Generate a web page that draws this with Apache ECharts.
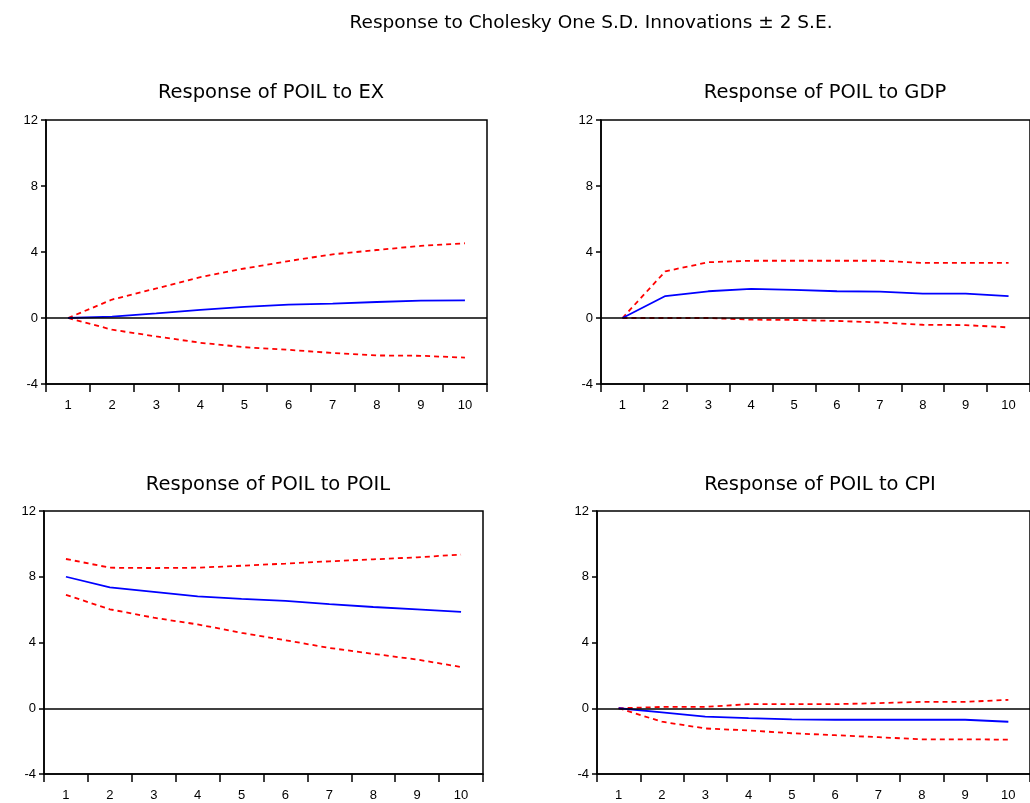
<!DOCTYPE html>
<html>
<head>
<meta charset="UTF-8">
<title>Impulse responses</title>
<script src="https://cdn.jsdelivr.net/npm/echarts@6/dist/echarts.min.js"></script>
<style>
  html, body { margin: 0; padding: 0; background: #fff; }
</style>
</head>
<body>
<div id="main" style="width: 1030px; height: 803px;"></div>
<script>
var periods = ["1", "2", "3", "4", "5", "6", "7", "8", "9", "10"];
var yTicks = [-4, 0, 4, 8, 12];

// response of POIL to EX
var exResp  = [0, 0.08, 0.28, 0.49, 0.67, 0.81, 0.87, 0.97, 1.05, 1.07];
var exUpper = [0, 1.12, 1.79, 2.48, 3.0, 3.45, 3.86, 4.12, 4.37, 4.53];
var exLower = [0, -0.71, -1.12, -1.5, -1.77, -1.93, -2.12, -2.27, -2.29, -2.4];

// response of POIL to GDP
var gdpResp  = [0, 1.33, 1.62, 1.76, 1.7, 1.62, 1.6, 1.48, 1.48, 1.33];
var gdpUpper = [0, 2.83, 3.38, 3.47, 3.47, 3.47, 3.47, 3.34, 3.34, 3.34];
var gdpLower = [0, 0.0, 0.0, -0.1, -0.12, -0.18, -0.27, -0.41, -0.43, -0.57];

// response of POIL to POIL
var poilResp  = [8.0, 7.35, 7.08, 6.8, 6.65, 6.53, 6.33, 6.16, 6.02, 5.86];
var poilUpper = [9.08, 8.55, 8.53, 8.55, 8.67, 8.8, 8.94, 9.06, 9.18, 9.35];
var poilLower = [6.9, 6.02, 5.51, 5.1, 4.59, 4.14, 3.67, 3.31, 2.96, 2.51];

// response of POIL to CPI
var cpiResp  = [0, -0.25, -0.51, -0.6, -0.68, -0.7, -0.7, -0.7, -0.7, -0.82];
var cpiUpper = [0, 0.08, 0.08, 0.25, 0.25, 0.25, 0.31, 0.39, 0.39, 0.51];
var cpiLower = [0, -0.82, -1.23, -1.35, -1.52, -1.64, -1.76, -1.89, -1.89, -1.91];

var panelTitles = ["Response of POIL to EX", "Response of POIL to GDP",
                   "Response of POIL to POIL", "Response of POIL to CPI"];
var panels = [
  [exResp, exUpper, exLower],
  [gdpResp, gdpUpper, gdpLower],
  [poilResp, poilUpper, poilLower],
  [cpiResp, cpiUpper, cpiLower]
];

var font = "'Liberation Sans', Arial, sans-serif";
var titleFont = "'DejaVu Sans', sans-serif";
var grids = [
  {left: 46, top: 120, width: 441, height: 264},
  {left: 601, top: 120, width: 440, height: 264},
  {left: 44, top: 511, width: 439, height: 263},
  {left: 597, top: 511, width: 440, height: 263}
];
var titlePos = [[266, 78], [820, 78], [263, 470], [815, 470]];

var myChart = echarts.init(document.getElementById("main"));

var option = {
  backgroundColor: '#fff',
  animation: false,
  title: [{
    text: "Response to Cholesky One S.D. Innovations \u00b1 2 S.E.",
    left: 586, top: 9, textAlign: 'center',
    textStyle: {fontFamily: titleFont, fontSize: 18.5, fontWeight: 'normal', color: '#000'}
  }],
  grid: [],
  xAxis: [],
  yAxis: [],
  series: []
};

for (var i = 0; i < 4; i++) {
  var g = grids[i];
  option.title.push({
    text: panelTitles[i],
    left: titlePos[i][0], top: titlePos[i][1], textAlign: 'center',
    textStyle: {fontFamily: titleFont, fontSize: 19.5, fontWeight: 'normal', color: '#000'}
  });
  option.grid.push({
    left: g.left, top: g.top, width: g.width, height: g.height,
    show: true, borderColor: '#000', borderWidth: 1.5, backgroundColor: '#fff'
  });
  option.xAxis.push({
    type: 'category', gridIndex: i, data: periods, boundaryGap: true,
    axisLine: {onZero: false, lineStyle: {color: '#000', width: 1.5}},
    axisTick: {show: true, length: 8, alignWithLabel: false, lineStyle: {color: '#000', width: 1.5}},
    axisLabel: {fontFamily: font, fontSize: 13, color: '#000', margin: 15},
    splitLine: {show: false}
  });
  option.yAxis.push({
    type: 'value', gridIndex: i, min: yTicks[0], max: yTicks[yTicks.length - 1], interval: 4,
    axisLine: {show: true, onZero: false, lineStyle: {color: '#000', width: 1.5}},
    axisTick: {show: true, length: 5, lineStyle: {color: '#000', width: 1.5}},
    axisLabel: {fontFamily: font, fontSize: 13, color: '#000', margin: 8},
    splitLine: {show: false}
  });
  var d = panels[i];
  option.series.push({
    type: 'line', xAxisIndex: i, yAxisIndex: i, data: d[0], symbol: 'none', z: 4,
    lineStyle: {color: '#0000ff', width: 1.8},
    markLine: {
      silent: true, symbol: 'none', label: {show: false},
      lineStyle: {color: '#000', type: 'solid', width: 1.5},
      data: [{yAxis: 0}]
    }
  });
  option.series.push({
    type: 'line', xAxisIndex: i, yAxisIndex: i, data: d[1], symbol: 'none', z: 3,
    lineStyle: {color: '#ff0000', width: 1.8, type: [5, 4]}
  });
  option.series.push({
    type: 'line', xAxisIndex: i, yAxisIndex: i, data: d[2], symbol: 'none', z: 3,
    lineStyle: {color: '#ff0000', width: 1.8, type: [5, 4]}
  });
}

myChart.setOption(option);
</script>
</body>
</html>
